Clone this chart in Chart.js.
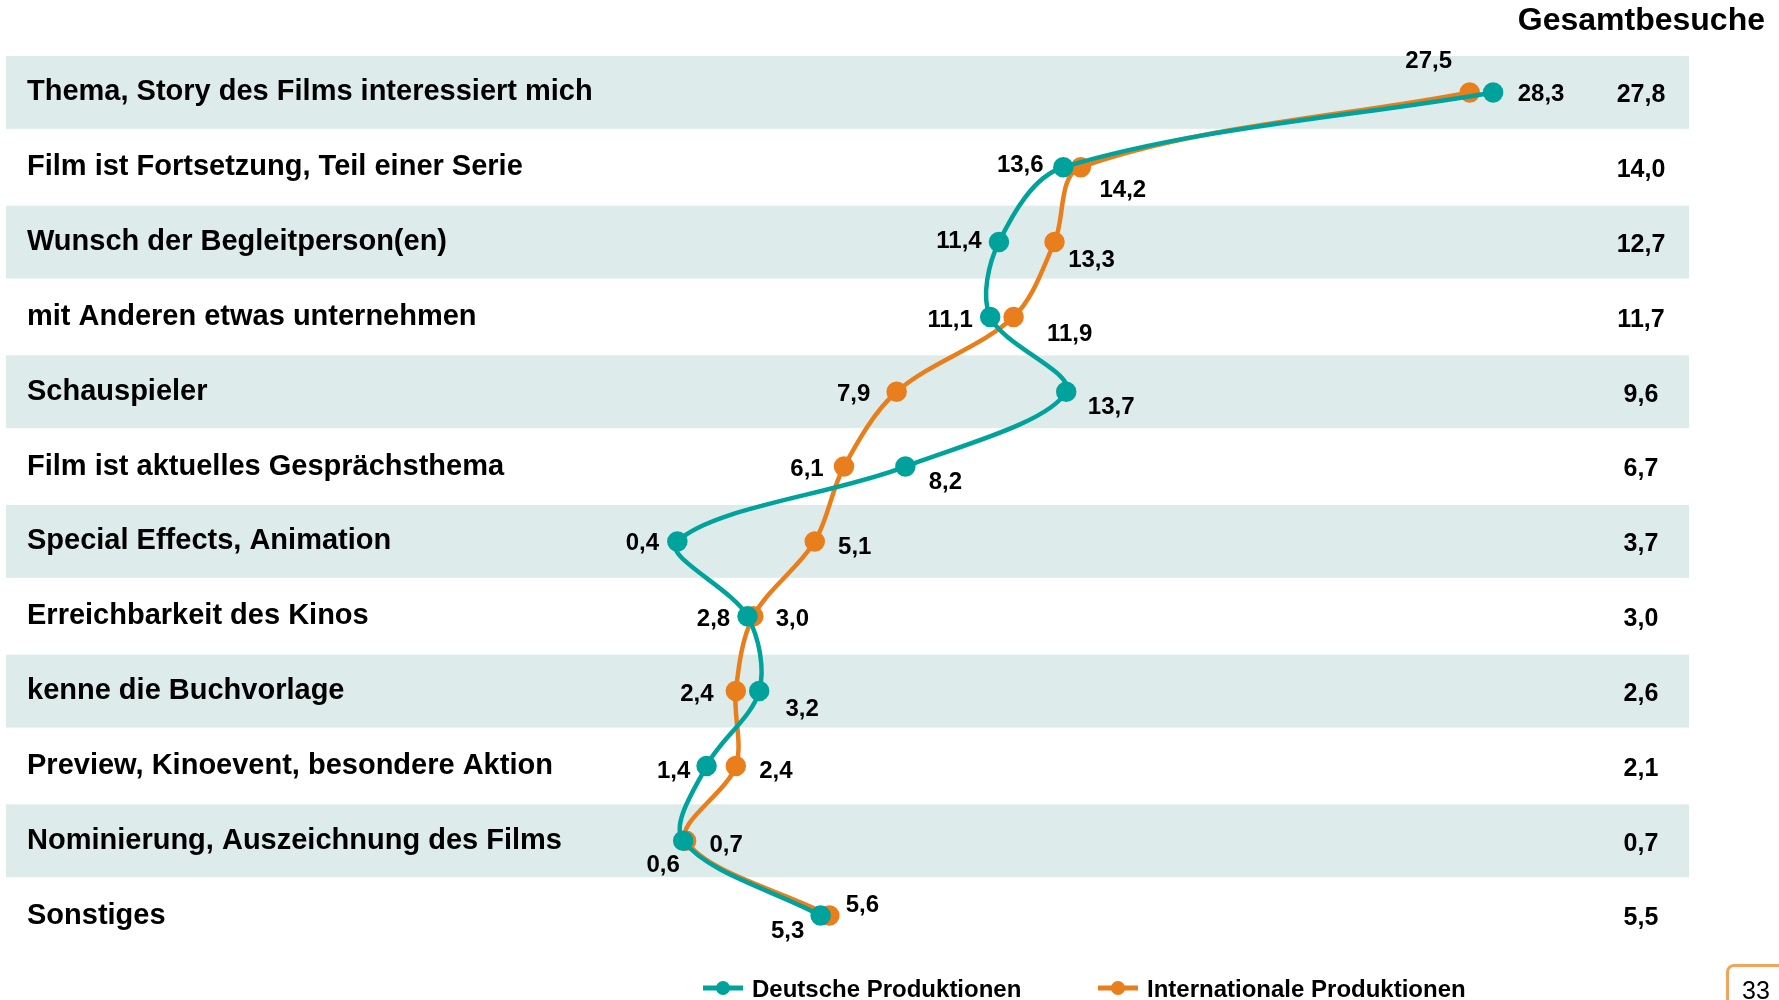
<!DOCTYPE html>
<html lang="de">
<head>
    <meta charset="UTF-8">
    <title>Gesamtbesuche</title>
    <style>
        body {
            margin: 0;
            padding: 0;
            background: #ffffff;
            font-family: 'Liberation Sans', Arial, sans-serif;
        }
        .wrap {
            position: relative;
            width: 1779px;
            height: 1000px;
            overflow: hidden;
        }
        .seite {
            position: absolute;
            left: 1726px;
            top: 964px;
            width: 60px;
            height: 60px;
            border: 3px solid #f0a55e;
            border-radius: 8px;
            box-sizing: border-box;
            font-size: 25px;
            padding: 9px 0 0 13px;
            color: #000;
        }
    </style>
</head>
<body>
<div class="wrap">
    <canvas id="chart" width="1779" height="1000"></canvas>
    <div class="seite">33</div>
</div>

<script src="https://cdn.jsdelivr.net/npm/chart.js"></script>
<script>
    // Daten
    const kategorien = [
        'Thema, Story des Films interessiert mich',
        'Film ist Fortsetzung, Teil einer Serie',
        'Wunsch der Begleitperson(en)',
        'mit Anderen etwas unternehmen',
        'Schauspieler',
        'Film ist aktuelles Gesprächsthema',
        'Special Effects, Animation',
        'Erreichbarkeit des Kinos',
        'kenne die Buchvorlage',
        'Preview, Kinoevent, besondere Aktion',
        'Nominierung, Auszeichnung des Films',
        'Sonstiges'
    ];
    const deutsche = [28.3, 13.6, 11.4, 11.1, 13.7, 8.2, 0.4, 2.8, 3.2, 1.4, 0.6, 5.3];
    const international = [27.5, 14.2, 13.3, 11.9, 7.9, 6.1, 5.1, 3.0, 2.4, 2.4, 0.7, 5.6];
    const gesamt = [27.8, 14.0, 12.7, 11.7, 9.6, 6.7, 3.7, 3.0, 2.6, 2.1, 0.7, 5.5];

    // Lage der Wertbeschriftungen (dx, dy in px relativ zum Punkt)
    const posDeutsche = [[48, 2], [-43, -2], [-40, -1], [-40, 3], [45, 16], [40, 16],
                         [-35, 2], [-34, 3], [43, 18], [-33, 5], [-20, 25], [-33, 16]];
    const posInternational = [[-41, -31], [42, 23], [37, 18], [56, 17], [-43, 3], [-37, 3],
                              [40, 6], [39, 3], [-39, 3], [40, 5], [40, 5], [33, -10]];

    const TEAL = '#00a39c';
    const ORANGE = '#e97e1c';
    const BAND = '#deebeb';

    const fmt = v => v.toFixed(1).replace('.', ',');

    const hintergrund = {
        id: 'hintergrund',
        beforeDatasetsDraw(chart) {
            const {ctx, chartArea, scales} = chart;
            const y = scales.y;
            const rowH = (chartArea.bottom - chartArea.top) / kategorien.length;
            ctx.save();
            kategorien.forEach((k, i) => {
                const cy = y.getPixelForValue(i);
                if (i % 2 === 0) {
                    ctx.fillStyle = BAND;
                    ctx.fillRect(chartArea.left, cy - rowH / 2 + 1, chartArea.right - chartArea.left, rowH - 2);
                }
                ctx.fillStyle = '#000';
                ctx.font = 'bold 29px "Liberation Sans", Arial, sans-serif';
                ctx.textAlign = 'left';
                ctx.textBaseline = 'middle';
                ctx.fillText(k, 27, cy);
                ctx.font = 'bold 25px "Liberation Sans", Arial, sans-serif';
                ctx.textAlign = 'center';
                ctx.fillText(fmt(gesamt[i]), 1641, cy + 3);
            });
            ctx.font = 'bold 32px "Liberation Sans", Arial, sans-serif';
            ctx.textAlign = 'right';
            ctx.fillText('Gesamtbesuche', 1765, 21);

            // Legende
            const legende = [[TEAL, 'Deutsche Produktionen', 703], [ORANGE, 'Internationale Produktionen', 1098]];
            legende.forEach(([farbe, text, x]) => {
                ctx.strokeStyle = farbe;
                ctx.fillStyle = farbe;
                ctx.lineWidth = 5;
                ctx.beginPath();
                ctx.moveTo(x, 988);
                ctx.lineTo(x + 40, 988);
                ctx.stroke();
                ctx.beginPath();
                ctx.arc(x + 20, 988, 7, 0, Math.PI * 2);
                ctx.fill();
                ctx.fillStyle = '#000';
                ctx.font = 'bold 24px "Liberation Sans", Arial, sans-serif';
                ctx.textAlign = 'left';
                ctx.fillText(text, x + 49, 990);
            });
            ctx.restore();
        },
        afterDatasetsDraw(chart) {
            const {ctx} = chart;
            const pos = [posDeutsche, posInternational];
            ctx.save();
            ctx.fillStyle = '#000';
            ctx.font = 'bold 24px "Liberation Sans", Arial, sans-serif';
            ctx.textAlign = 'center';
            ctx.textBaseline = 'middle';
            chart.data.datasets.forEach((ds, d) => {
                chart.getDatasetMeta(d).data.forEach((pt, i) => {
                    ctx.fillText(fmt(ds.data[i]), pt.x + pos[d][i][0], pt.y + pos[d][i][1]);
                });
            });
            ctx.restore();
        }
    };

    const ctx = document.getElementById('chart').getContext('2d');
    new Chart(ctx, {
        type: 'line',
        data: {
            labels: kategorien,
            datasets: [
                {
                    label: 'Deutsche Produktionen',
                    data: deutsche,
                    borderColor: TEAL,
                    backgroundColor: TEAL,
                    borderWidth: 4.5,
                    pointRadius: 8,
                    pointHoverRadius: 8,
                    tension: 0.33
                },
                {
                    label: 'Internationale Produktionen',
                    data: international,
                    borderColor: ORANGE,
                    backgroundColor: ORANGE,
                    borderWidth: 4.5,
                    pointRadius: 8,
                    pointHoverRadius: 8,
                    tension: 0.33
                }
            ]
        },
        options: {
            indexAxis: 'y',
            responsive: false,
            animation: false,
            layout: {
                autoPadding: false,
                padding: {left: 6, right: 90, top: 55, bottom: 47}
            },
            scales: {
                x: {
                    type: 'linear',
                    display: false,
                    min: -22.56,
                    max: 35.0
                },
                y: {
                    type: 'category',
                    display: false,
                    offset: true
                }
            },
            plugins: {
                legend: {display: false},
                tooltip: {enabled: false}
            }
        },
        plugins: [hintergrund]
    });
</script>
</body>
</html>
